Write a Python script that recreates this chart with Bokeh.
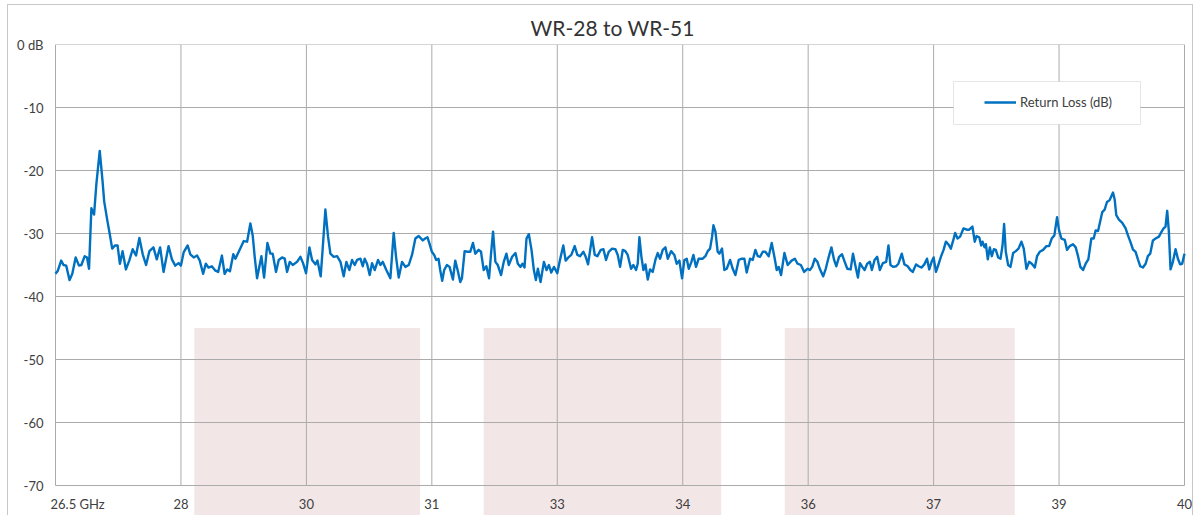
from bokeh.plotting import figure
from bokeh.models import Range1d, FixedTicker, Legend, LegendItem, BoxAnnotation
from bokeh.core.properties import value
from bokeh.embed import file_html
from bokeh.resources import INLINE

chart_title = "WR-28 to WR-51"
series_name = "Return Loss (dB)"

freq_ghz = [
    26.500, 26.528, 26.568, 26.596, 26.628, 26.668, 26.701, 26.741, 26.781, 26.809,
    26.849, 26.877, 26.901, 26.929, 26.961, 26.989, 27.029, 27.062, 27.082, 27.118,
    27.150, 27.178, 27.210, 27.242, 27.270, 27.302, 27.342, 27.382, 27.423, 27.463,
    27.503, 27.543, 27.583, 27.623, 27.671, 27.711, 27.751, 27.792, 27.852, 27.892,
    27.932, 27.972, 28.000, 28.032, 28.080, 28.112, 28.153, 28.193, 28.225, 28.265,
    28.297, 28.329, 28.369, 28.413, 28.445, 28.490, 28.522, 28.554, 28.586, 28.626,
    28.651, 28.691, 28.751, 28.791, 28.830, 28.858, 28.882, 28.910, 28.962, 28.994,
    29.034, 29.070, 29.097, 29.137, 29.169, 29.209, 29.241, 29.269, 29.301, 29.337,
    29.388, 29.428, 29.460, 29.496, 29.536, 29.568, 29.608, 29.632, 29.671, 29.695,
    29.727, 29.759, 29.787, 29.827, 29.867, 29.907, 29.946, 29.978, 30.014, 30.046,
    30.078, 30.106, 30.146, 30.174, 30.197, 30.225, 30.257, 30.285, 30.317, 30.357,
    30.385, 30.413, 30.453, 30.504, 30.544, 30.572, 30.604, 30.644, 30.684, 30.724,
    30.763, 30.803, 30.843, 30.892, 30.920, 30.948, 30.972, 31.000, 31.028, 31.052,
    31.080, 31.100, 31.124, 31.148, 31.180, 31.212, 31.252, 31.280, 31.308, 31.340,
    31.360, 31.392, 31.428, 31.460, 31.492, 31.520, 31.560, 31.588, 31.620, 31.652,
    31.684, 31.708, 31.732, 31.760, 31.788, 31.828, 31.860, 31.892, 31.920, 31.960,
    32.000, 32.028, 32.060, 32.084, 32.108, 32.132, 32.160, 32.192, 32.220, 32.244,
    32.268, 32.300, 32.340, 32.372, 32.400, 32.428, 32.460, 32.500, 32.532, 32.572,
    32.600, 32.640, 32.668, 32.708, 32.740, 32.772, 32.812, 32.840, 32.868, 32.916,
    32.948, 32.980, 33.020, 33.052, 33.083, 33.115, 33.155, 33.195, 33.223, 33.251,
    33.283, 33.314, 33.342, 33.382, 33.410, 33.442, 33.462, 33.482, 33.506, 33.530,
    33.554, 33.582, 33.609, 33.641, 33.673, 33.701, 33.729, 33.761, 33.793, 33.821,
    33.861, 33.900, 33.928, 33.960, 33.992, 34.020, 34.048, 34.072, 34.104, 34.128,
    34.159, 34.191, 34.239, 34.271, 34.299, 34.327, 34.351, 34.367, 34.391, 34.418,
    34.438, 34.470, 34.498, 34.526, 34.566, 34.598, 34.630, 34.670, 34.709, 34.737,
    34.765, 34.805, 34.837, 34.869, 34.897, 34.925, 34.957, 34.988, 35.028, 35.064,
    35.096, 35.124, 35.148, 35.176, 35.216, 35.255, 35.302, 35.341, 35.373, 35.413,
    35.452, 35.492, 35.520, 35.548, 35.579, 35.611, 35.639, 35.679, 35.710, 35.746,
    35.778, 35.810, 35.837, 35.869, 35.905, 35.937, 35.968, 36.008, 36.036, 36.063,
    36.095, 36.119, 36.147, 36.175, 36.206, 36.238, 36.262, 36.294, 36.325, 36.357,
    36.393, 36.433, 36.460, 36.484, 36.516, 36.552, 36.579, 36.619, 36.651, 36.690,
    36.722, 36.750, 36.790, 36.821, 36.857, 36.889, 36.921, 36.948, 36.976, 37.000,
    37.028, 37.056, 37.087, 37.119, 37.147, 37.175, 37.206, 37.230, 37.258, 37.286,
    37.317, 37.357, 37.397, 37.425, 37.464, 37.492, 37.513, 37.545, 37.569, 37.585,
    37.609, 37.625, 37.648, 37.672, 37.696, 37.720, 37.744, 37.772, 37.800, 37.824,
    37.843, 37.863, 37.891, 37.919, 37.951, 37.983, 38.015, 38.050, 38.078, 38.110,
    38.142, 38.174, 38.210, 38.237, 38.269, 38.309, 38.349, 38.381, 38.412, 38.444,
    38.476, 38.500, 38.528, 38.568, 38.596, 38.627, 38.667, 38.699, 38.727, 38.755,
    38.787, 38.818, 38.850, 38.886, 38.914, 38.938, 38.966, 39.017, 39.045, 39.073,
    39.105, 39.121, 39.145, 39.165, 39.184, 39.216, 39.256, 39.296, 39.324, 39.352,
    39.383, 39.415, 39.443, 39.471, 39.503, 39.535, 39.562, 39.590, 39.622, 39.654,
    39.694, 39.726, 39.750, 39.773, 39.793, 39.813, 39.833, 39.861, 39.893, 39.921,
    39.948, 39.972, 40.000,
]

return_loss_db = [
    -36.4, -35.9, -34.3, -35.0, -35.1, -37.4, -36.4, -33.8, -35.1, -35.0,
    -33.6, -33.8, -35.6, -26.0, -27.0, -22.1, -16.9, -21.6, -24.9, -27.8,
    -30.2, -32.4, -31.9, -31.9, -34.8, -32.8, -35.7, -34.3, -32.5, -33.5,
    -30.7, -33.3, -35.0, -32.8, -32.2, -34.1, -32.2, -36.1, -32.0, -34.1,
    -35.1, -34.7, -35.1, -33.0, -31.9, -33.3, -33.8, -33.5, -34.3, -36.4,
    -34.8, -35.4, -35.2, -35.9, -36.1, -33.5, -36.4, -35.7, -36.0, -33.3,
    -34.0, -32.9, -31.2, -31.3, -28.4, -30.3, -33.7, -37.1, -33.6, -37.0,
    -31.5, -33.2, -33.2, -36.1, -34.2, -33.8, -34.0, -36.1, -34.5, -35.0,
    -34.5, -33.7, -34.7, -36.3, -32.2, -34.2, -34.9, -34.3, -36.8, -32.4,
    -26.2, -30.5, -33.2, -33.7, -33.6, -34.5, -36.8, -34.5, -35.8, -34.2,
    -35.0, -34.2, -34.0, -35.2, -34.0, -34.8, -36.6, -34.7, -35.8, -34.2,
    -35.0, -34.5, -35.7, -37.1, -29.9, -33.7, -37.0, -34.5, -35.3, -35.0,
    -33.4, -30.8, -30.4, -31.1, -30.8, -30.6, -31.6, -32.9, -33.4, -34.2,
    -34.0, -35.8, -37.5, -35.8, -35.0, -35.3, -37.3, -34.3, -35.8, -37.7,
    -37.1, -32.8, -32.9, -32.9, -31.5, -33.2, -32.6, -32.9, -35.8, -35.2,
    -37.1, -33.2, -29.7, -34.5, -35.0, -36.6, -34.5, -33.2, -35.0, -33.7,
    -33.1, -34.8, -35.3, -34.8, -35.4, -30.8, -30.1, -32.6, -35.8, -37.4,
    -35.6, -37.7, -34.5, -35.8, -35.0, -36.2, -35.3, -36.3, -34.2, -31.9,
    -34.3, -33.7, -33.4, -32.0, -33.4, -33.6, -32.9, -33.7, -34.9, -30.6,
    -33.4, -33.6, -32.6, -32.5, -34.2, -32.9, -32.4, -32.5, -33.4, -35.3,
    -32.6, -32.8, -33.4, -35.6, -35.0, -35.8, -34.8, -30.6, -33.7, -35.8,
    -34.9, -37.3, -35.7, -36.1, -34.2, -33.1, -34.0, -32.6, -32.2, -34.0,
    -32.8, -33.4, -34.8, -34.3, -37.1, -34.2, -34.0, -35.6, -34.5, -33.4,
    -35.3, -34.0, -34.0, -33.6, -32.8, -32.4, -30.5, -28.7, -29.7, -32.9,
    -33.2, -32.4, -35.8, -35.6, -34.2, -35.6, -36.6, -34.2, -34.0, -34.0,
    -36.2, -34.0, -34.2, -32.6, -33.6, -33.7, -32.9, -32.9, -33.6, -31.5,
    -33.7, -35.8, -35.3, -36.6, -33.1, -35.0, -34.3, -34.0, -34.8, -35.0,
    -36.1, -35.6, -35.8, -35.3, -34.0, -34.5, -35.6, -36.8, -35.6, -33.7,
    -32.2, -34.2, -35.2, -33.7, -33.3, -34.5, -35.6, -35.7, -33.2, -35.0,
    -37.0, -34.7, -35.3, -35.8, -34.8, -34.5, -35.8, -34.2, -33.7, -35.8,
    -34.7, -34.5, -31.9, -35.0, -35.3, -35.2, -34.8, -33.2, -34.9, -35.2,
    -35.8, -36.1, -34.9, -35.2, -35.4, -34.9, -34.0, -35.7, -34.5, -33.8,
    -36.1, -35.0, -33.7, -32.6, -31.3, -31.7, -32.4, -31.3, -29.9, -30.8,
    -30.5, -29.2, -29.4, -29.4, -28.9, -31.3, -30.4, -30.6, -31.9, -31.3,
    -32.2, -31.7, -34.1, -32.2, -33.6, -32.5, -32.6, -33.8, -34.0, -31.9,
    -28.5, -32.9, -35.0, -35.3, -33.1, -32.8, -32.4, -31.3, -32.4, -35.6,
    -34.5, -34.8, -35.4, -33.6, -32.9, -32.6, -32.0, -32.0, -30.8, -30.3,
    -27.4, -29.5, -30.8, -31.0, -32.6, -32.0, -31.7, -32.2, -33.6, -35.3,
    -35.8, -34.8, -34.1, -30.8, -30.8, -29.5, -29.6, -26.6, -26.2, -25.0,
    -24.7, -24.2, -23.5, -24.6, -27.1, -27.8, -28.3, -29.2, -30.3, -31.3,
    -32.5, -32.9, -34.1, -35.2, -35.4, -34.8, -33.6, -33.2, -31.1, -30.8,
    -30.5, -29.7, -29.2, -28.9, -26.4, -29.7, -35.7, -34.5, -32.5, -34.0,
    -34.9, -34.8, -33.2,
]

x_ticks = [26.5, 28.0, 29.5, 31.0, 32.5, 34.0, 35.5, 37.0, 38.5, 40.0]
x_tick_labels = ["26.5 GHz", "28", "30", "31", "33", "34", "36", "37", "39", "40"]
y_ticks = [0, -10, -20, -30, -40, -50, -60, -70]
y_tick_labels = ["0 dB", "-10", "-20", "-30", "-40", "-50", "-60", "-70"]

band_start = [28.16, 31.62, 35.22]
band_end = [30.86, 34.46, 37.97]
band_top = [-45, -45, -45]

FONT = "Lato"
GRID = "#ABABAB"
TEXT = "#404040"

p = figure(
    width=1186, height=511,
    output_backend="svg", toolbar_location=None,
    x_range=Range1d(26.3804, 40.1195), y_range=Range1d(-74.92, 0),
    x_axis_location=None,
    min_border_left=37, min_border_right=0, min_border_top=39, min_border_bottom=0,
    background_fill_color="white", border_fill_color="white",
    outline_line_color=None,
    title=chart_title,
    styles={"border": "1px solid #C8C8C8", "border-bottom": "none",
            "margin-left": "7px", "margin-top": "4px"},
)
p.grid.visible = False

p.title.align = "left"
p.title.offset = 485
p.title.standoff = 9
p.title.text_font = FONT
p.title.text_font_size = "21px"
p.title.text_font_style = "normal"
p.title.text_color = "#333333"

# background bands
p.quad(left=band_start, right=band_end, top=band_top,
       bottom=[p.y_range.start] * len(band_start),
       fill_color="#F3E6E6", line_color=None)

# gridlines bounded to the tick extents
y_hi, y_lo = max(y_ticks), min(y_ticks)
p.segment(x0=x_ticks, y0=[y_hi] * len(x_ticks), x1=x_ticks, y1=[y_lo] * len(x_ticks),
          line_color=GRID, line_width=1)
p.segment(x0=[x_ticks[0]] * len(y_ticks), y0=y_ticks, x1=[x_ticks[-1]] * len(y_ticks), y1=y_ticks,
          line_color=GRID, line_width=1)

r = p.line(freq_ghz, return_loss_db, line_color="#0070C0", line_width=2.4, line_join="round")

# x tick labels under the -70 gridline
p.text(x=x_ticks[:1], y=[y_lo], text=x_tick_labels[:1], text_align="left", text_baseline="middle",
       x_offset=-5, y_offset=18, text_font=value(FONT), text_font_size="13px", text_color=TEXT)
p.text(x=x_ticks[1:], y=[y_lo] * (len(x_ticks) - 1), text=x_tick_labels[1:], text_align="center",
       text_baseline="middle", y_offset=18, text_font=value(FONT), text_font_size="13px", text_color=TEXT)

# y axis
p.yaxis.ticker = FixedTicker(ticks=y_ticks)
p.yaxis.major_label_overrides = {t: l for t, l in zip(y_ticks, y_tick_labels)}
p.yaxis.axis_line_color = None
p.yaxis.major_tick_line_color = None
p.yaxis.minor_tick_line_color = None
p.yaxis.major_tick_out = 0
p.yaxis.major_label_standoff = 2
p.yaxis.major_label_text_font = FONT
p.yaxis.major_label_text_font_size = "13px"
p.yaxis.major_label_text_color = TEXT

# legend box + legend (screen units are measured from the frame's lower-left corner)
box = BoxAnnotation(left=908, right=1095, top=435, bottom=392,
                    left_units="screen", right_units="screen", top_units="screen", bottom_units="screen",
                    fill_color="white", fill_alpha=1.0, line_color=GRID, line_width=1)
p.add_layout(box)
legend = Legend(items=[LegendItem(label=series_name, renderers=[r])],
                location=(939, 404), padding=10, margin=0, spacing=0,
                glyph_width=32, glyph_height=20, label_height=20, label_standoff=4,
                border_line_color=None, background_fill_alpha=0,
                label_text_font=FONT, label_text_font_size="13px", label_text_color=TEXT)
p.add_layout(legend)

open("out.html", "w").write(file_html(p, INLINE))
